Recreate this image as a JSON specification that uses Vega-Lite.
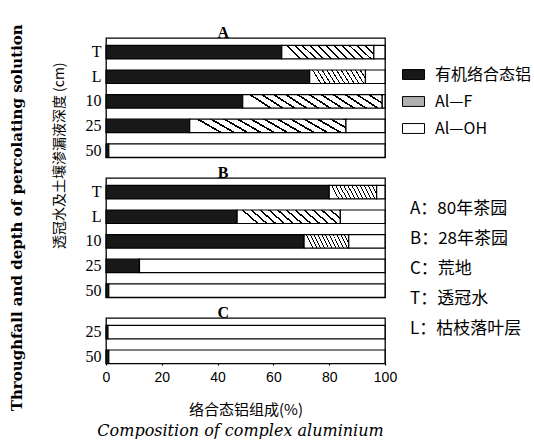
{
  "$schema": "https://vega.github.io/schema/vega-lite/v6.json",
  "background": "white",
  "padding": {"left": 10, "top": 24, "right": 0, "bottom": 0},
  "config": {
    "view": {"stroke": "black", "strokeWidth": 1.3},
    "axis": {"grid": false, "labelColor": "black", "titleColor": "black"},
    "legend": {"labelColor": "black"}
  },
  "title": {
    "text": "Throughfall and depth of percolating solution",
    "orient": "left",
    "anchor": "middle",
    "font": "DejaVu Serif",
    "fontSize": 15,
    "fontWeight": "bold",
    "color": "black",
    "offset": 28,
    "dx": 14
  },
  "hconcat": [
    {
      "title": {
        "text": "透冠水及土壤渗漏液深度 (cm)",
        "orient": "left",
        "anchor": "middle",
        "font": "Noto Sans CJK SC",
        "fontSize": 14,
        "fontWeight": "normal",
        "color": "black",
        "offset": 17,
        "dx": 76
      },
      "vconcat": [
        {
          "data": {
            "values": [
              {"kind": "bar", "panel": "A", "cat": "T", "type": "有机络合态铝", "o": 1, "value": 63},
              {"kind": "bar", "panel": "A", "cat": "T", "type": "Al—F", "o": 2, "value": 33},
              {"kind": "bar", "panel": "A", "cat": "T", "type": "Al—OH", "o": 3, "value": 4},
              {"kind": "bar", "panel": "A", "cat": "L", "type": "有机络合态铝", "o": 1, "value": 73},
              {"kind": "bar", "panel": "A", "cat": "L", "type": "Al—F", "o": 2, "value": 20},
              {"kind": "bar", "panel": "A", "cat": "L", "type": "Al—OH", "o": 3, "value": 7},
              {"kind": "bar", "panel": "A", "cat": "10", "type": "有机络合态铝", "o": 1, "value": 49},
              {"kind": "bar", "panel": "A", "cat": "10", "type": "Al—F", "o": 2, "value": 50},
              {"kind": "bar", "panel": "A", "cat": "10", "type": "Al—OH", "o": 3, "value": 1},
              {"kind": "bar", "panel": "A", "cat": "25", "type": "有机络合态铝", "o": 1, "value": 30},
              {"kind": "bar", "panel": "A", "cat": "25", "type": "Al—F", "o": 2, "value": 56},
              {"kind": "bar", "panel": "A", "cat": "25", "type": "Al—OH", "o": 3, "value": 14},
              {"kind": "bar", "panel": "A", "cat": "50", "type": "有机络合态铝", "o": 1, "value": 1},
              {"kind": "bar", "panel": "A", "cat": "50", "type": "Al—OH", "o": 3, "value": 99},
              {"kind": "bar", "panel": "B", "cat": "T", "type": "有机络合态铝", "o": 1, "value": 80},
              {"kind": "bar", "panel": "B", "cat": "T", "type": "Al—F", "o": 2, "value": 17},
              {"kind": "bar", "panel": "B", "cat": "T", "type": "Al—OH", "o": 3, "value": 3},
              {"kind": "bar", "panel": "B", "cat": "L", "type": "有机络合态铝", "o": 1, "value": 47},
              {"kind": "bar", "panel": "B", "cat": "L", "type": "Al—F", "o": 2, "value": 37},
              {"kind": "bar", "panel": "B", "cat": "L", "type": "Al—OH", "o": 3, "value": 16},
              {"kind": "bar", "panel": "B", "cat": "10", "type": "有机络合态铝", "o": 1, "value": 71},
              {"kind": "bar", "panel": "B", "cat": "10", "type": "Al—F", "o": 2, "value": 16},
              {"kind": "bar", "panel": "B", "cat": "10", "type": "Al—OH", "o": 3, "value": 13},
              {"kind": "bar", "panel": "B", "cat": "25", "type": "有机络合态铝", "o": 1, "value": 12},
              {"kind": "bar", "panel": "B", "cat": "25", "type": "Al—OH", "o": 3, "value": 88},
              {"kind": "bar", "panel": "B", "cat": "50", "type": "有机络合态铝", "o": 1, "value": 1},
              {"kind": "bar", "panel": "B", "cat": "50", "type": "Al—OH", "o": 3, "value": 99},
              {"kind": "bar", "panel": "C", "cat": "25", "type": "有机络合态铝", "o": 1, "value": 0.7},
              {"kind": "bar", "panel": "C", "cat": "25", "type": "Al—OH", "o": 3, "value": 99.3},
              {"kind": "bar", "panel": "C", "cat": "50", "type": "有机络合态铝", "o": 1, "value": 1},
              {"kind": "bar", "panel": "C", "cat": "50", "type": "Al—OH", "o": 3, "value": 99},
              {"kind": "label", "panel": "A", "cat": "T", "label": "A"},
              {"kind": "label", "panel": "B", "cat": "T", "label": "B"},
              {"kind": "label", "panel": "C", "cat": "25", "label": "C"},
              {"kind": "note", "panel": "A", "cat": "T", "note": "A：80年茶园"},
              {"kind": "note", "panel": "A", "cat": "T", "note": "B：28年茶园"},
              {"kind": "note", "panel": "A", "cat": "T", "note": "C：荒地"},
              {"kind": "note", "panel": "A", "cat": "T", "note": "T：透冠水"},
              {"kind": "note", "panel": "A", "cat": "T", "note": "L：枯枝落叶层"}
            ]
          },
          "title": {
            "text": "Composition of complex aluminium",
            "orient": "bottom",
            "anchor": "middle",
            "font": "DejaVu Serif",
            "fontSize": 16,
            "fontStyle": "italic",
            "fontWeight": "normal",
            "color": "black",
            "offset": 6
          },
          "facet": {
            "row": {
              "field": "panel",
              "type": "nominal",
              "header": {"labels": false, "title": null}
            }
          },
          "spacing": 5,
          "resolve": {"scale": {"y": "independent"}},
          "spec": {
            "width": 279,
            "height": {"step": 24.6},
            "layer": [
              {
                "transform": [{"filter": "datum.kind === 'bar'"}],
                "mark": {"type": "bar", "stroke": "black", "strokeWidth": 1.2},
                "encoding": {
                  "y": {
                    "field": "cat",
                    "type": "nominal",
                    "sort": ["T", "L", "10", "25", "50"],
                    "scale": {"paddingInner": 0.45, "paddingOuter": 0.15, "align": 1},
                    "axis": {
                      "title": null,
                      "ticks": false,
                      "domain": false,
                      "labelFont": "Liberation Serif",
                      "labelFontSize": 16,
                      "labelPadding": 5
                    }
                  },
                  "x": {
                    "field": "value",
                    "type": "quantitative",
                    "stack": "zero",
                    "scale": {"domain": [0, 100], "nice": false},
                    "axis": {
                      "title": "络合态铝组成(%)",
                      "titleFont": "Noto Sans CJK SC",
                      "titleFontSize": 15,
                      "titleFontWeight": "normal",
                      "titlePadding": 18,
                      "values": [0, 10, 20, 30, 40, 50, 60, 70, 80, 90, 100],
                      "tickSize": -4,
                      "tickColor": "black",
                      "tickWidth": 1.2,
                      "zindex": 1,
                      "domain": false,
                      "labelFont": "Liberation Sans",
                      "labelFontSize": 14,
                      "labelPadding": 9,
                      "labelFlush": false
                    }
                  },
                  "color": {
                    "condition": {
                      "test": "datum.type === 'Al—F'",
                      "value": {
                        "gradient": "linear",
                        "x1": 0, "y1": 0.15, "x2": 1, "y2": 0,
                        "stops": [
                          {"offset": 0, "color": "white"}, {"offset": 0.0625, "color": "white"}, {"offset": 0.0625, "color": "black"}, {"offset": 0.0833, "color": "black"},
                          {"offset": 0.0833, "color": "white"}, {"offset": 0.1458, "color": "white"}, {"offset": 0.1458, "color": "black"}, {"offset": 0.1667, "color": "black"},
                          {"offset": 0.1667, "color": "white"}, {"offset": 0.2292, "color": "white"}, {"offset": 0.2292, "color": "black"}, {"offset": 0.25, "color": "black"},
                          {"offset": 0.25, "color": "white"}, {"offset": 0.3125, "color": "white"}, {"offset": 0.3125, "color": "black"}, {"offset": 0.3333, "color": "black"},
                          {"offset": 0.3333, "color": "white"}, {"offset": 0.3958, "color": "white"}, {"offset": 0.3958, "color": "black"}, {"offset": 0.4167, "color": "black"},
                          {"offset": 0.4167, "color": "white"}, {"offset": 0.4792, "color": "white"}, {"offset": 0.4792, "color": "black"}, {"offset": 0.5, "color": "black"},
                          {"offset": 0.5, "color": "white"}, {"offset": 0.5625, "color": "white"}, {"offset": 0.5625, "color": "black"}, {"offset": 0.5833, "color": "black"},
                          {"offset": 0.5833, "color": "white"}, {"offset": 0.6458, "color": "white"}, {"offset": 0.6458, "color": "black"}, {"offset": 0.6667, "color": "black"},
                          {"offset": 0.6667, "color": "white"}, {"offset": 0.7292, "color": "white"}, {"offset": 0.7292, "color": "black"}, {"offset": 0.75, "color": "black"},
                          {"offset": 0.75, "color": "white"}, {"offset": 0.8125, "color": "white"}, {"offset": 0.8125, "color": "black"}, {"offset": 0.8333, "color": "black"},
                          {"offset": 0.8333, "color": "white"}, {"offset": 0.8958, "color": "white"}, {"offset": 0.8958, "color": "black"}, {"offset": 0.9167, "color": "black"},
                          {"offset": 0.9167, "color": "white"}, {"offset": 0.9792, "color": "white"}, {"offset": 0.9792, "color": "black"}, {"offset": 1, "color": "black"}
                        ]
                      }
                    },
                    "field": "type",
                    "type": "nominal",
                    "scale": {
                      "domain": ["有机络合态铝", "Al—F", "Al—OH"],
                      "range": ["#181818", "#b0b0b0", "#ffffff"]
                    },
                    "legend": {
                      "title": null,
                      "orient": "none",
                      "legendX": 296,
                      "legendY": 25,
                      "symbolType": "M-1,-0.45H1V0.45H-1Z",
                      "symbolSize": 484,
                      "symbolStrokeColor": "black",
                      "symbolStrokeWidth": 1,
                      "symbolOpacity": 1,
                      "labelFont": "Noto Sans CJK SC",
                      "labelFontSize": 16,
                      "rowPadding": 7,
                      "labelOffset": 10,
                      "encode": {
                        "symbols": {
                          "update": {
                            "stroke": {"value": "black"},
                            "strokeWidth": {"value": 1},
                            "opacity": {"value": 1},
                            "fillOpacity": {"value": 1},
                            "fill": {
                              "signal": "datum.value === 'Al—F' ? {gradient: 'linear', x1: 0, y1: 0.5, x2: 1, y2: 0, stops: [{offset: 0, color: 'white'}, {offset: 0.17, color: 'white'}, {offset: 0.17, color: 'black'}, {offset: 0.25, color: 'black'}, {offset: 0.25, color: 'white'}, {offset: 0.42, color: 'white'}, {offset: 0.42, color: 'black'}, {offset: 0.5, color: 'black'}, {offset: 0.5, color: 'white'}, {offset: 0.67, color: 'white'}, {offset: 0.67, color: 'black'}, {offset: 0.75, color: 'black'}, {offset: 0.75, color: 'white'}, {offset: 0.92, color: 'white'}, {offset: 0.92, color: 'black'}, {offset: 1, color: 'black'}]} : (datum.value === 'Al—OH' ? 'white' : '#181818')"
                            }
                          }
                        }
                      }
                    }
                  },
                  "order": {"field": "o"}
                }
              },
              {
                "transform": [{"filter": "datum.kind === 'label'"}],
                "mark": {"type": "text", "font": "Liberation Serif", "fontSize": 16, "fontWeight": "bold", "dy": -19, "color": "black"},
                "encoding": {
                  "x": {"datum": 42},
                  "y": {"field": "cat", "type": "nominal", "sort": ["T", "L", "10", "25", "50"]},
                  "text": {"field": "label"}
                }
              },
              {
                "transform": [{"filter": "datum.kind === 'note'"}],
                "mark": {"type": "point", "opacity": 0},
                "encoding": {
                  "x": {"datum": 0},
                  "y": {"field": "cat", "type": "nominal", "sort": ["T", "L", "10", "25", "50"]},
                  "shape": {
                    "field": "note",
                    "type": "nominal",
                    "scale": {"domain": ["A：80年茶园", "B：28年茶园", "C：荒地", "T：透冠水", "L：枯枝落叶层"]},
                    "legend": {
                      "title": null,
                      "orient": "none",
                      "legendX": 287,
                      "legendY": 162,
                      "symbolOpacity": 0,
                      "symbolSize": 1,
                      "labelFont": "Noto Sans CJK SC",
                      "labelFontSize": 17,
                      "labelFontWeight": "normal",
                      "rowPadding": 12,
                      "labelOffset": 0
                    }
                  }
                }
              }
            ]
          }
        }
      ]
    }
  ]
}
